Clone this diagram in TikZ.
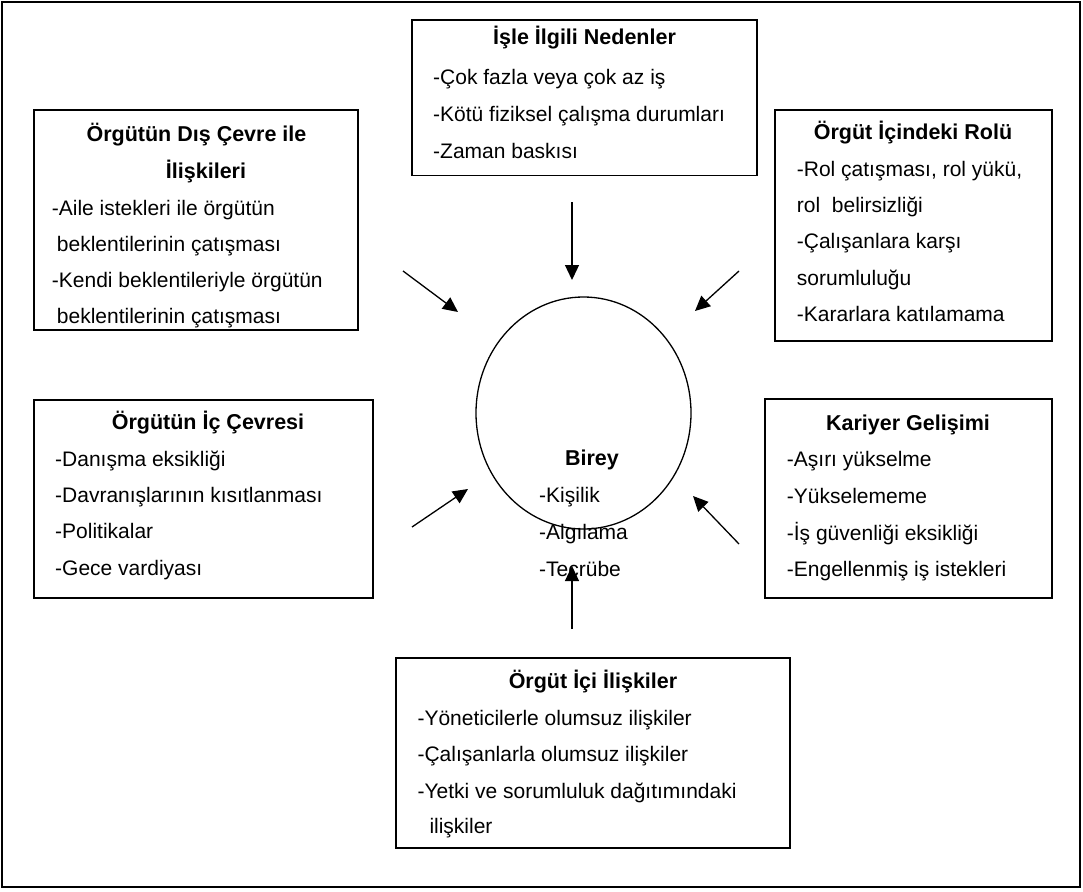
\documentclass[tikz,border=0pt]{standalone}
\usepackage{fontspec}
\setmainfont{Liberation Sans}
\usetikzlibrary{arrows.meta,shapes.geometric}
\begin{document}
\begin{tikzpicture}[x=1pt,y=-1pt,
  box/.style={draw, line width=1.6pt, rectangle, inner sep=0pt, outer sep=0pt},
  txt/.style={anchor=base west, inner sep=0pt, font=\fontsize{21}{25}\selectfont},
  ttl/.style={anchor=base, inner sep=0pt, font=\fontsize{21.5}{25}\selectfont\bfseries},
  arr/.style={-{Triangle[length=15pt,width=14pt]}, line width=1.3pt}]
\useasboundingbox (0,0) rectangle (1083,891);
\node[box, minimum width=1078pt, minimum height=885pt] (frame) at (541,444.5) {};

% boxes
\node[box, minimum width=345pt, minimum height=155.5pt] (bTop) at (584.5,97.75) {};
\node[box, minimum width=324pt, minimum height=220pt] (bTL) at (196,220) {};
\node[box, minimum width=277pt, minimum height=231pt] (bTR) at (913.5,225.5) {};
\node[box, minimum width=339pt, minimum height=198pt] (bML) at (203.5,499) {};
\node[box, minimum width=287pt, minimum height=199pt] (bMR) at (908.5,498.5) {};
\node[box, minimum width=394pt, minimum height=190pt] (bB) at (593,753) {};
\node[draw, line width=1.3pt, ellipse, minimum width=215pt, minimum height=232pt, inner sep=0pt] (birey) at (583.5,413) {};

% top box text
\node[ttl] (t0) at (584.5,45) {İşle İlgili Nedenler};
\node[txt] (t1) at (433,84) {-Çok fazla veya çok az iş};
\node[txt] (t2) at (433,121.5) {-Kötü fiziksel çalışma durumları};
\node[txt] (t3) at (433,158.5) {-Zaman baskısı};

% top-left box text
\node[ttl] (a0) at (196.5,141.7) {Örgütün Dış Çevre ile};
\node[ttl] (a0b) at (206,178) {İlişkileri};
\node[txt] (a1) at (51.7,215) {-Aile istekleri ile örgütün};
\node[txt] (a2) at (56.7,251.7) {beklentilerinin çatışması};
\node[txt] (a3) at (51.7,287.7) {-Kendi beklentileriyle örgütün};
\node[txt] (a4) at (56.7,323) {beklentilerinin çatışması};

% top-right box text
\node[ttl] (r0) at (913,139.3) {Örgüt İçindeki Rolü};
\node[txt] (r1) at (796.7,176) {-Rol çatışması, rol yükü,};
\node[txt] (r2) at (796.7,212.7) {rol\ \ belirsizliği};
\node[txt] (r3) at (796.7,248) {-Çalışanlara karşı};
\node[txt] (r4) at (796.7,285) {sorumluluğu};
\node[txt] (r5) at (796.7,321.7) {-Kararlara katılamama};

% middle-left box text
\node[ttl] (m0) at (208,429.3) {Örgütün İç Çevresi};
\node[txt] (m1) at (55,466) {-Danışma eksikliği};
\node[txt] (m2) at (55,502.7) {-Davranışlarının kısıtlanması};
\node[txt] (m3) at (55,538.3) {-Politikalar};
\node[txt] (m4) at (55,575) {-Gece vardiyası};

% middle-right box text
\node[ttl] (k0) at (908,430.7) {Kariyer Gelişimi};
\node[txt] (k1) at (786.7,466.7) {-Aşırı yükselme};
\node[txt] (k2) at (786.7,503.3) {-Yükselememe};
\node[txt] (k3) at (786.7,540) {-İş güvenliği eksikliği};
\node[txt] (k4) at (786.7,576) {-Engellenmiş iş istekleri};

% bottom box text
\node[ttl] (o0) at (593,688) {Örgüt İçi İlişkiler};
\node[txt] (o1) at (417.3,725) {-Yöneticilerle olumsuz ilişkiler};
\node[txt] (o2) at (417.3,761.7) {-Çalışanlarla olumsuz ilişkiler};
\node[txt] (o3) at (417.3,798.3) {-Yetki ve sorumluluk dağıtımındaki};
\node[txt] (o4) at (429.3,833.3) {ilişkiler};

% circle text
\node[ttl] (c0) at (592,465.7) {Birey};
\node[txt] (c1) at (539,502.7) {-Kişilik};
\node[txt] (c2) at (539,539.3) {-Algılama};
\node[txt] (c3) at (539,576.7) {-Tecrübe};

% arrows
\coordinate (s1) at (572,202); \coordinate (e1) at (572,280);
\coordinate (s2) at (403,271); \coordinate (e2) at (458,312);
\coordinate (s3) at (739,271); \coordinate (e3) at (695,311);
\coordinate (s4) at (412,527); \coordinate (e4) at (468,489);
\coordinate (s5) at (739,544); \coordinate (e5) at (693,496);
\coordinate (s6) at (572,629); \coordinate (e6) at (572,566);
\draw[arr] (s1) -- (e1);
\draw[arr] (s2) -- (e2);
\draw[arr] (s3) -- (e3);
\draw[arr] (s4) -- (e4);
\draw[arr] (s5) -- (e5);
\draw[arr] (s6) -- (e6);
\end{tikzpicture}
\end{document}
